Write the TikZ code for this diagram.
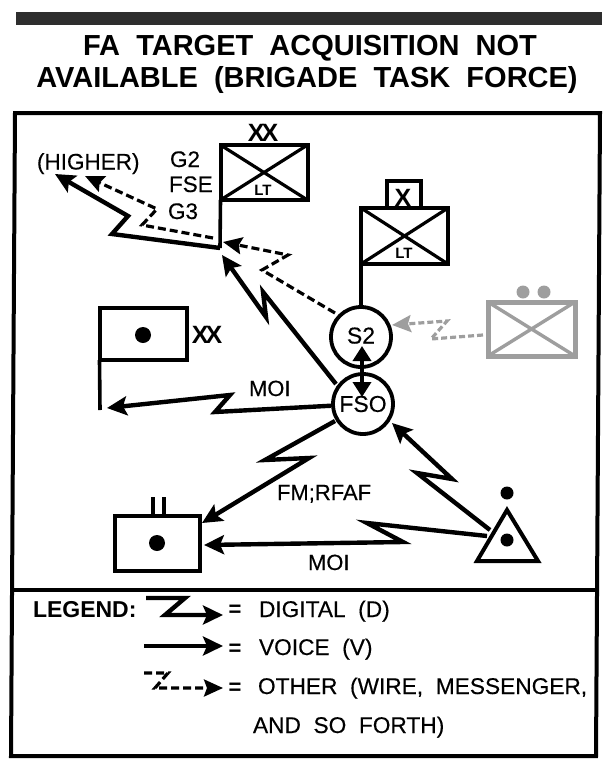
\documentclass[tikz,border=0pt]{standalone}
\usepackage{fontspec}
\setmainfont{Liberation Sans}
\newfontfamily\heavyfont[FakeBold=0.35]{Liberation Sans}
\usetikzlibrary{arrows.meta}
\tikzset{
  txt/.style={inner sep=0pt,outer sep=0pt,anchor=base west,font=\heavyfont\fontsize{#1}{#1}\selectfont},
  btxt/.style={inner sep=0pt,outer sep=0pt,anchor=base,font=\fontsize{#1}{#1}\selectfont\bfseries},
  unitbox/.style={draw,line width=4pt,inner sep=0pt,outer sep=0pt},
  bignode/.style={draw,circle,line width=3.8pt,inner sep=0pt,minimum size=60pt,fill=white,font=\heavyfont\fontsize{23}{23}\selectfont},
  digital/.style={line width=4.4pt,miter limit=6,-{Stealth[length=20pt,width=19pt,inset=4pt]}},
  other/.style={line width=3.2pt,dash pattern=on 8pt off 4pt,-{Stealth[length=19pt,width=17pt,inset=3pt]}},
  faded/.style={black!38}
}
\begin{document}
\begin{tikzpicture}[x=1pt,y=-1pt]
  \useasboundingbox (0,0) rectangle (610,766);

  \fill[black!82] (16,12) rectangle (602,25);
  \node[btxt=29] (title1) at (310,55.5) {FA\ \ TARGET\ \ ACQUISITION\ \ NOT};
  \node[btxt=29] (title2) at (307,87) {AVAILABLE\ \ (BRIGADE\ \ TASK\ \ FORCE)};

  \draw[line width=4pt,line join=miter] (15,113) -- (600,113) -- (596,756) -- (11,756) -- cycle;
  \draw[line width=3.8pt] (13,590) -- (598,590);

  \node[unitbox,minimum width=87pt,minimum height=55pt] (corps) at (264,172.5) {};
  \draw[line width=3.2pt] (corps.north west) -- (corps.south east) (corps.south west) -- (corps.north east);
  \node[btxt=15,fill=white,inner sep=0.5pt] (corpslt) at (263,195) {LT};
  \node[btxt=25] (corpsxx) at (263,141) {X\kern-3pt X};
  \coordinate (corpsbase) at (220,248);
  \draw[line width=3.6pt] (corps.south west) -- (corpsbase);
  \node[txt=22.5] (g2) at (170,167) {G2};
  \node[txt=22.5] (fse) at (169,192) {FSE};
  \node[txt=22.5] (g3) at (168,219) {G3};
  \node[txt=22.5] (higher) at (37,169.5) {(HIGHER)};

  \node[unitbox,minimum width=34pt,minimum height=27pt] (bdex) at (404,194.5) {};
  \node[btxt=25] (bdexl) at (403,206) {X};
  \node[unitbox,minimum width=87pt,minimum height=56pt] (bde) at (404.5,236) {};
  \draw[line width=3.2pt] (bde.north west) -- (bde.south east) (bde.south west) -- (bde.north east);
  \node[btxt=15,fill=white,inner sep=0.5pt] (bdelt) at (404,258) {LT};

  \node[bignode] (s2) at (361,337) {\raisebox{3pt}{S2}};
  \node[bignode] (fso) at (363,404) {\raisebox{-5pt}{FSO}};
  \draw[line width=3.6pt] (bde.south west) -- (s2);
  \coordinate (s2tip) at (362,346);
  \coordinate (fsotip) at (362,397);
  \draw[line width=3.6pt,{Stealth[length=15pt,width=18pt,inset=0pt]}-{Stealth[length=15pt,width=18pt,inset=0pt]}] (s2tip) -- (fsotip);

  \node[unitbox,faded,line width=5pt,minimum width=87pt,minimum height=54pt] (enemy) at (531.5,329) {};
  \draw[faded,line width=3.4pt] (enemy.north west) -- (enemy.south east) (enemy.south west) -- (enemy.north east);
  \node[circle,fill,faded,minimum size=13pt,inner sep=0pt] (enemya) at (523,292) {};
  \node[circle,fill,faded,minimum size=13pt,inner sep=0pt] (enemyb) at (544,292) {};

  \node[unitbox,minimum width=87pt,minimum height=52pt] (div) at (143,334) {};
  \node[circle,fill,minimum size=16pt,inner sep=0pt] (divdot) at (143,335) {};
  \node[btxt=25] (divxx) at (207,343) {X\kern-3pt X};
  \coordinate (divbase) at (100,410);
  \draw[line width=3.6pt] (div.south west) -- (divbase);

  \node[unitbox,minimum width=85pt,minimum height=55pt] (bn) at (157.5,543) {};
  \node[circle,fill,minimum size=16pt,inner sep=0pt] (bndot) at (157,543) {};
  \coordinate (anta) at (153,497);
  \coordinate (antb) at (164,497);
  \draw[line width=3.4pt] (anta) -- (anta |- bn.north) (antb) -- (antb |- bn.north);

  \coordinate (tra) at (507,510);
  \coordinate (trb) at (477,561);
  \coordinate (trc) at (538,561);
  \draw[line width=4pt,line join=miter] (tra) -- (trc) -- (trb) -- cycle;
  \node[circle,fill,minimum size=13pt,inner sep=0pt] (fistin) at (507,540) {};
  \node[circle,fill,minimum size=13pt,inner sep=0pt] (fistup) at (507,493) {};

  \coordinate (za1) at (112,234);
  \coordinate (za2) at (128,216);
  \coordinate (zatip) at (55,174);
  \draw[digital] (corpsbase) -- (za1) -- (za2) -- (zatip);

  \coordinate (zb0) at (213,238);
  \coordinate (zb1) at (142,225);
  \coordinate (zb2) at (157,209);
  \coordinate (zbtip) at (85,176);
  \draw[other] (zb0) -- (zb1) -- (zb2) -- (zbtip);

  \coordinate (zc0) at (335,313);
  \coordinate (zc1) at (262,270);
  \coordinate (zc2) at (288,255);
  \coordinate (zctip) at (223,242);
  \draw[other] (zc0) -- (zc1) -- (zc2) -- (zctip);

  \coordinate (zd0) at (336,384);
  \coordinate (zd1) at (263,292);
  \coordinate (zd2) at (266,317);
  \coordinate (zdtip) at (222,255);
  \draw[digital] (zd0) -- (zd1) -- (zd2) -- (zdtip);

  \coordinate (ze0) at (483,335);
  \coordinate (ze1) at (431,339);
  \coordinate (ze2) at (447,321);
  \coordinate (zetip) at (392,325);
  \draw[other,faded,dash pattern=on 6pt off 3pt] (ze0) -- (ze1) -- (ze2) -- (zetip);

  \coordinate (zf1) at (215,412);
  \coordinate (zf2) at (230,395);
  \coordinate (zftip) at (107,408);
  \draw[digital] (fso) -- (zf1) -- (zf2) -- (zftip);
  \node[txt=22] (moia) at (249,396) {MOI};

  \coordinate (zg0) at (335,421);
  \coordinate (zg1) at (265,460);
  \coordinate (zg2) at (309,458);
  \coordinate (zgtip) at (202,523);
  \draw[digital] (zg0) -- (zg1) -- (zg2) -- (zgtip);
  \node[txt=22] (fmrfaf) at (277,500) {FM;RFAF};

  \coordinate (zh0) at (490,530);
  \coordinate (zh1) at (417,473);
  \coordinate (zh2) at (452,479);
  \coordinate (zhtip) at (392,423);
  \draw[digital] (zh0) -- (zh1) -- (zh2) -- (zhtip);

  \coordinate (zi0) at (487,536);
  \coordinate (zi1) at (367,523);
  \coordinate (zi2) at (403,542);
  \coordinate (zitip) at (204,545);
  \draw[digital] (zi0) -- (zi1) -- (zi2) -- (zitip);
  \node[txt=22] (moib) at (308,570) {MOI};

  \node[btxt=23,anchor=base west] (legend) at (33,617) {LEGEND:};
  \coordinate (la0) at (146,598);
  \coordinate (la1) at (185,598);
  \coordinate (la2) at (165,615);
  \coordinate (latip) at (223,615);
  \draw[digital] (la0) -- (la1) -- (la2) -- (latip);
  \coordinate (lb0) at (144,646);
  \coordinate (lbtip) at (223,646);
  \draw[digital] (lb0) -- (lbtip);
  \coordinate (lc0) at (144,673);
  \coordinate (lc1) at (168,673);
  \coordinate (lc2) at (155,688);
  \coordinate (lctip) at (223,688);
  \draw[other] (lc0) -- (lc1) -- (lc2) -- (lctip);
  \node[btxt=22] (eqa) at (235,616) {=};
  \node[btxt=22] (eqb) at (235,655) {=};
  \node[btxt=22] (eqc) at (235,694) {=};
  \node[txt=22.7] (ldig) at (259,617) {DIGITAL\ \ (D)};
  \node[txt=22.7] (lvoi) at (259,655) {VOICE\ \ (V)};
  \node[txt=22.7] (loth) at (258,694) {OTHER\ \ (WIRE,\ \ MESSENGER,};
  \node[txt=22.7] (land) at (253,733) {AND\ \ SO\ \ FORTH)};
\end{tikzpicture}
\end{document}
